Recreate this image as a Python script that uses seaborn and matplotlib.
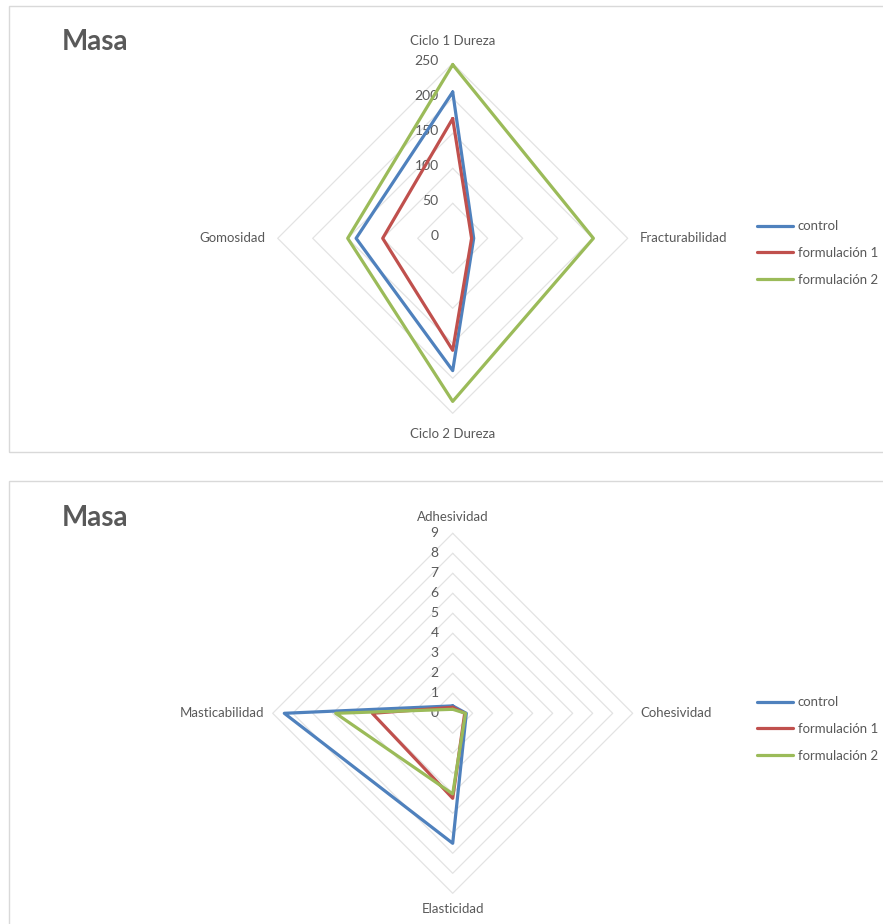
import numpy as np
import pandas as pd
import matplotlib
matplotlib.use("Agg")
import matplotlib.pyplot as plt
from matplotlib.patches import Rectangle
import seaborn as sns

# ---------------- data ----------------
series_names = ["control", "formulación 1", "formulación 2"]

cats1 = ["Ciclo 1 Dureza", "Fracturabilidad", "Ciclo 2 Dureza", "Gomosidad"]
control1 = [209, 30, 189, 138]
form1_1 = [171, 27, 160, 100]
form2_1 = [248, 201, 233, 150]
ticks1 = [0, 50, 100, 150, 200, 250]

cats2 = ["Adhesividad", "Cohesividad", "Elasticidad", "Masticabilidad"]
control2 = [0.37, 0.68, 6.5, 8.42]
form1_2 = [0.3, 0.6, 4.25, 4.02]
form2_2 = [0.2, 0.64, 4.03, 5.85]
ticks2 = [0, 1, 2, 3, 4, 5, 6, 7, 8, 9]

title_text = "Masa"

# ---------------- style ----------------
sns.set_theme(style="white")
plt.rcParams["font.family"] = ["Lato", "DejaVu Sans"]

W, H, DPI = 883, 924, 100
fig = plt.figure(figsize=(W / DPI, H / DPI), dpi=DPI)
fig.patch.set_facecolor("white")

colors = ["#4F81BD", "#C0504D", "#9BBB59"]
grid_color = "#e3e3e3"
text_color = "#595959"


def px2pt(p):
    return p * 72.0 / DPI


def radar(ax_top_px, ax_h_px, cx, cy, scale, cats, series, ticks,
          lab_off, legend_y, tick_dy):
    ax = fig.add_axes([0, 1 - (ax_top_px + ax_h_px) / H, 1, ax_h_px / H])
    ax.set_axis_off()
    ax.set_xlim(-cx / scale, (W - cx) / scale)
    rel = cy - ax_top_px
    ax.set_ylim(-(ax_h_px - rel) / scale, rel / scale)

    n = len(cats)
    theta = np.arange(n) * 2 * np.pi / n  # clockwise from top
    # grid polygons
    for t in ticks[1:]:
        gx = np.append(t * np.sin(theta), t * np.sin(theta[0]))
        gy = np.append(t * np.cos(theta), t * np.cos(theta[0]))
        ax.plot(gx, gy, color=grid_color, lw=0.9, zorder=1)
    # tick labels
    for t in ticks:
        ax.annotate(str(t), (0, t), xytext=(px2pt(-14), px2pt(tick_dy)),
                    textcoords="offset points", ha="right", va="center",
                    fontsize=10, color=text_color)
    rmax = ticks[-1]
    # category labels
    offs = [(0, lab_off[0]), (lab_off[1], 0), (0, -lab_off[2]), (-lab_off[3], 0)]
    has = ["center", "left", "center", "right"]
    for i, c in enumerate(cats):
        ax.annotate(c, (rmax * np.sin(theta[i]), rmax * np.cos(theta[i])),
                    xytext=(px2pt(offs[i][0]), px2pt(offs[i][1])),
                    textcoords="offset points", ha=has[i], va="center",
                    fontsize=9.5, color=text_color)
    # data
    rows = []
    for name, vals in zip(series_names, series):
        vv = list(vals) + [vals[0]]
        tt = list(theta) + [theta[0]]
        for k, (v, a) in enumerate(zip(vv, tt)):
            rows.append({"serie": name, "order": k,
                         "x": v * np.sin(a), "y": v * np.cos(a)})
    df = pd.DataFrame(rows)
    sns.lineplot(data=df, x="x", y="y", hue="serie", palette=colors,
                 hue_order=series_names, sort=False, estimator=None,
                 units="serie", lw=2.3, ax=ax, zorder=3, legend=True)
    leg = ax.legend(loc="center left", bbox_to_anchor=(757 / W, 1 - legend_y / H),
                    bbox_transform=fig.transFigure, frameon=False, fontsize=9.5,
                    handlelength=2.7, handletextpad=0.4, labelspacing=1.12,
                    borderpad=0, borderaxespad=0)
    for tx in leg.get_texts():
        tx.set_color(text_color)
    for ln in leg.get_lines():
        ln.set_linewidth(2.3)
    ax.set_xlabel("")
    ax.set_ylabel("")
    return ax


radar(0, 462, 452.7, 238.3, 0.7, cats1, [control1, form1_1, form2_1], ticks1,
      (22, 12, 21, 12), 253, 2)
radar(462, 462, 452.7, 713.3, 20.0, cats2, [control2, form1_2, form2_2], ticks2,
      (16, 8, 16, 8), 729, 0.5)

# chart frames
for (top, bottom) in [(6, 452), (481, 930)]:
    fig.patches.append(Rectangle((9 / W, 1 - bottom / H), (W + 10) / W,
                                 (bottom - top) / H, transform=fig.transFigure,
                                 fill=False, edgecolor="#d9d9d9", lw=1.0))
# titles
for ty in [42, 518]:
    fig.text(62 / W, 1 - ty / H, title_text, ha="left", va="center",
             fontsize=20, fontweight="bold", color=text_color)

fig.savefig("out.png", dpi=DPI)
